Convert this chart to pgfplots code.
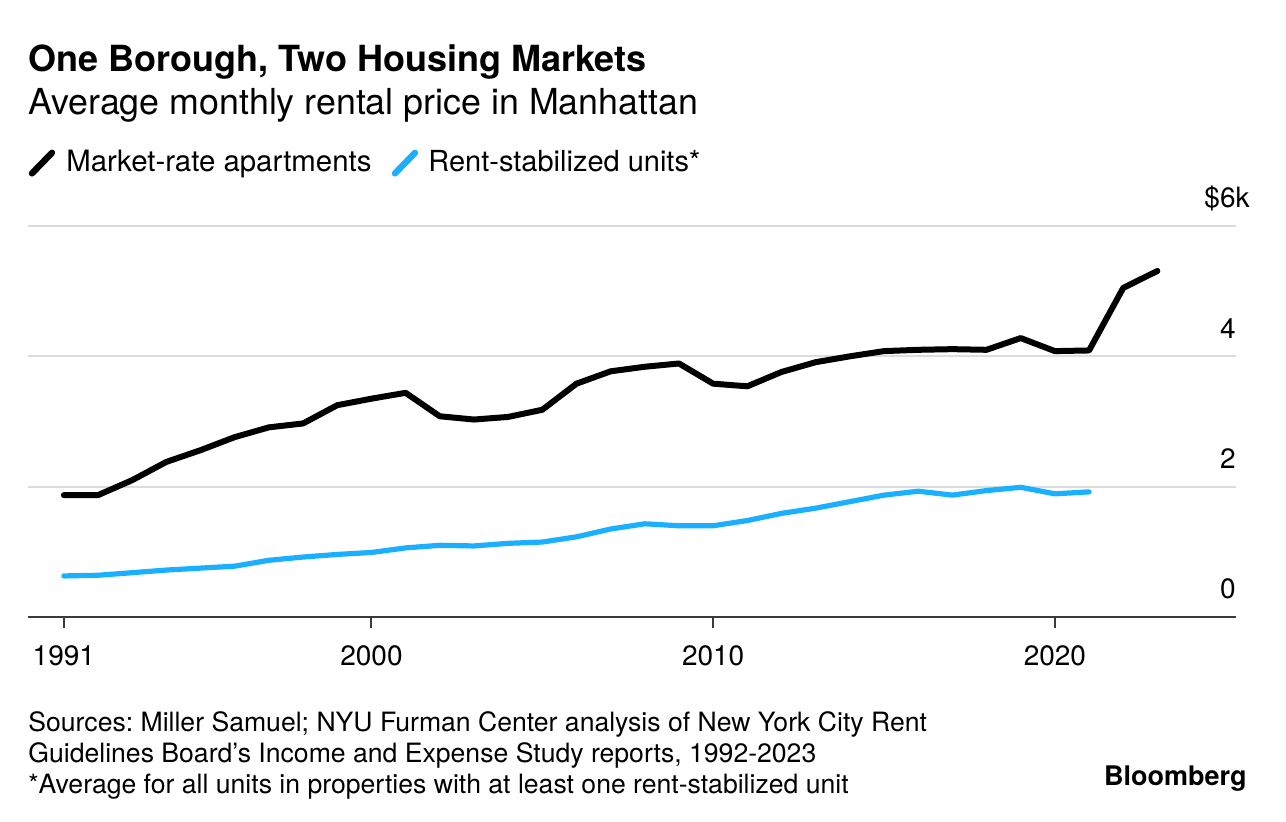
\documentclass[border=0pt]{standalone}
\usepackage{fontspec}
\setmainfont{TeX Gyre Heros}
\usepackage{pgfplots}
\usepackage{pgfplotstable}
\pgfplotsset{compat=1.18}
\frenchspacing

\definecolor{rsblue}{HTML}{1AB0FF}
\definecolor{gridgray}{HTML}{DCDCDC}
\definecolor{axisgray}{HTML}{3A3A3A}

% average monthly rent, thousands of dollars
\pgfplotstableread{
year rent
1991 1.87
1992 1.87
1993 2.10
1994 2.38
1995 2.56
1996 2.76
1997 2.91
1998 2.97
1999 3.25
2000 3.35
2001 3.44
2002 3.08
2003 3.03
2004 3.07
2005 3.18
2006 3.58
2007 3.77
2008 3.84
2009 3.89
2010 3.58
2011 3.54
2012 3.76
2013 3.91
2014 4.00
2015 4.08
2016 4.10
2017 4.11
2018 4.10
2019 4.28
2020 4.08
2021 4.09
2022 5.05
2023 5.31
}\marketrate

\pgfplotstableread{
year rent
1991 0.63
1992 0.64
1993 0.68
1994 0.72
1995 0.75
1996 0.78
1997 0.87
1998 0.92
1999 0.96
2000 0.99
2001 1.06
2002 1.10
2003 1.09
2004 1.13
2005 1.15
2006 1.23
2007 1.35
2008 1.43
2009 1.40
2010 1.40
2011 1.48
2012 1.59
2013 1.67
2014 1.77
2015 1.87
2016 1.93
2017 1.87
2018 1.94
2019 1.99
2020 1.89
2021 1.92
}\stabilized

\begin{document}
\begin{tikzpicture}
\path[use as bounding box] (0,0) rectangle (643pt,411pt);

\begin{axis}[
  at={(14pt,102.5pt)}, anchor=south west,
  scale only axis,
  width=604pt, height=195.5pt,
  xmin=1989.95, xmax=2025.3,
  ymin=0, ymax=6,
  axis x line*=bottom,
  axis y line*=right,
  y axis line style={draw=none},
  x axis line style={axisgray, line width=1pt},
  tick align=outside,
  major tick length=5.5pt,
  xtick={1991,2000,2010,2020},
  xticklabels={1991,2000,2010,2020},
  ytick={0,2,4,6},
  yticklabels={0,2,4,\$6\rlap{k}},
  xtick style={axisgray, line width=1pt},
  ytick style={draw=none},
  ymajorgrids,
  grid style={gridgray, line width=1pt},
  /pgf/number format/assume math mode=true,
  xticklabel style={font=\fontsize{14}{16}\selectfont, anchor=base, inner sep=0pt, yshift=-19pt},
  yticklabel style={font=\fontsize{14}{16}\selectfont, anchor=base east, inner sep=0pt, xshift=-5.5pt, yshift=9pt},
]
\addplot[black, line width=3pt, line join=round, line cap=round] table[x=year, y=rent] {\marketrate};
\addplot[rsblue, line width=2.6pt, line join=round, line cap=round] table[x=year, y=rent] {\stabilized};
\end{axis}

% titles
\node[anchor=base west, inner sep=0pt, font=\bfseries\fontsize{18}{21}\selectfont] at (14pt,375.15pt) {One Borough, Two Housing Markets};
\node[anchor=base west, inner sep=0pt, font=\fontsize{17.9}{21}\selectfont] at (14pt,353.85pt) {Average monthly rental price in Manhattan};

% legend
\draw[black, line width=3.2pt, line cap=round] (16pt,324.3pt) -- (26pt,334.6pt);
\node[anchor=base west, inner sep=0pt, font=\fontsize{14.7}{17}\selectfont] at (33pt,325.15pt) {Market-rate apartments};
\draw[rsblue, line width=3.2pt, line cap=round] (197.5pt,324.3pt) -- (207.5pt,334.6pt);
\node[anchor=base west, inner sep=0pt, font=\fontsize{14.5}{17}\selectfont] at (214pt,325.15pt) {Rent-stabilized units*};

% footer
\node[anchor=base west, inner sep=0pt, font=\fontsize{13.3}{15}\selectfont] at (14pt,45.15pt) {Sources: Miller Samuel; NYU Furman Center analysis of New York City Rent};
\node[anchor=base west, inner sep=0pt, font=\fontsize{13.3}{15}\selectfont] at (14pt,29.75pt) {Guidelines Board’s Income and Expense Study reports, 1992-2023};
\node[anchor=base west, inner sep=0pt, font=\fontsize{13.3}{15}\selectfont] at (14pt,14.35pt) {*Average for all units in properties with at least one rent-stabilized unit};
\node[anchor=base east, inner sep=0pt, font=\bfseries\fontsize{13.5}{16}\selectfont] at (623.5pt,18.15pt) {Bloomberg};
\end{tikzpicture}
\end{document}
